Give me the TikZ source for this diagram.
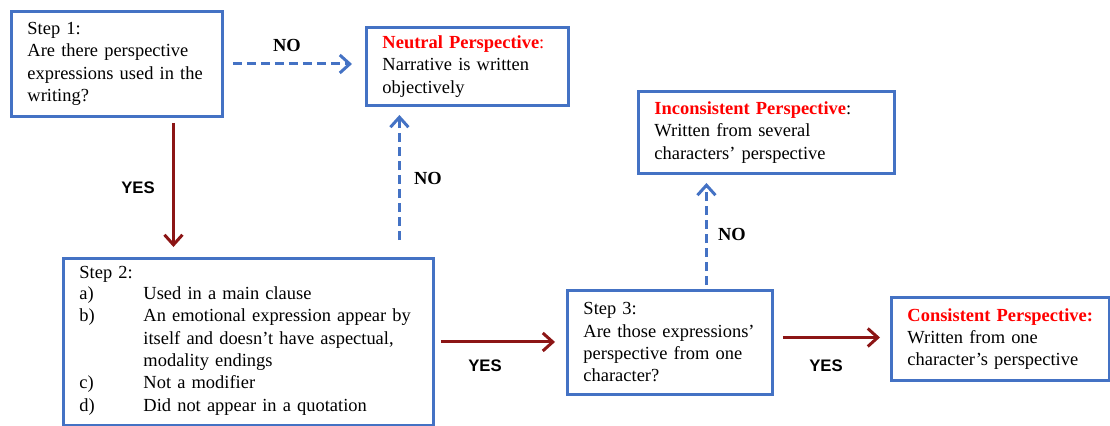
\documentclass[tikz,border=0pt]{standalone}
\usepackage{fontspec}
\setmainfont{Liberation Serif}
\newfontfamily\yesfont{Liberation Sans}
\usepackage{tikz}
\usetikzlibrary{arrows.meta}

\definecolor{boxblue}{HTML}{4472C4}
\definecolor{darkred}{HTML}{8C1515}

\tikzset{
  stepbox/.style={draw=boxblue, line width=1.7pt, rectangle, anchor=north west,
    inner xsep=0.32cm, inner ysep=0pt, align=left,
    font=\fontsize{10.5}{12.7}\selectfont},
  noarrow/.style={draw=boxblue, line width=1.7pt, dash pattern=on 0.18cm off 0.1cm,
    -{Straight Barb[length=0.2cm,width=0.36cm]}},
  yesarrow/.style={draw=darkred, line width=1.7pt,
    -{Straight Barb[length=0.2cm,width=0.36cm]}},
  nolabel/.style={font=\fontsize{10.5}{12}\selectfont\bfseries},
  yeslabel/.style={font=\yesfont\fontsize{9.5}{11}\selectfont\bfseries}
}

\begin{document}
\begin{tikzpicture}[x=0.02cm,y=-0.02cm]
      \useasboundingbox (0,0) rectangle (1110,426);
      \node[stepbox, text width=3.58cm, minimum height=2.1cm] (step1) at (10,10)
        {Step 1:\\Are there perspective\\expressions used in the\\writing?};
      \node[stepbox, text width=3.40cm, minimum height=1.56cm] (neutral) at (365,26)
        {\textcolor{red}{\textbf{Neutral Perspective}:}\\Narrative is written\\objectively};
      \node[stepbox, text width=4.48cm, minimum height=1.64cm] (incons) at (637,90)
        {\textcolor{red}{\textbf{Inconsistent Perspective}}:\\Written from several\\characters' perspective};
      \node[stepbox, text width=6.76cm, minimum height=3.34cm] (step2) at (62,257)
        {Step 2:\\
         \begin{tabular}{@{}p{1.28cm}@{}l@{}}
         a) & Used in a main clause\\
         b) & An emotional expression appear by\\
            & itself and doesn't have aspectual,\\
            & modality endings\\
         c) & Not a modifier\\
         d) & Did not appear in a quotation
         \end{tabular}};
      \node[stepbox, text width=3.46cm, minimum height=2.08cm] (step3) at (566,289)
        {Step 3:\\Are those expressions'\\perspective from one\\character?};
      \node[stepbox, text width=3.72cm, minimum height=1.66cm] (cons) at (890,296)
        {\textcolor{red}{\textbf{Consistent Perspective:}}\\Written from one\\character's perspective};

      \draw[noarrow, shorten <=0.18cm, shorten >=0.26cm] (step1.east) -- (step1.east -| neutral.west);
      \draw[yesarrow, shorten <=0.1cm, shorten >=0.2cm] ([xshift=1.13cm]step1.south) -- ([xshift=1.13cm]step1.south |- step2.north);
      \draw[noarrow, shorten <=0.34cm, shorten >=0.16cm] ([xshift=3.02cm]step2.north) -- ([xshift=3.02cm]step2.north |- neutral.south);
      \draw[yesarrow, shorten <=0.12cm, shorten >=0.22cm] (step2.east) -- (step2.east -| step3.west);
      \draw[noarrow, shorten <=0.08cm, shorten >=0.16cm] ([xshift=0.73cm]step3.north) -- ([xshift=0.73cm]step3.north |- incons.south);
      \draw[yesarrow, shorten <=0.18cm, shorten >=0.2cm] ([yshift=0.1cm]step3.east) -- ([yshift=0.1cm]step3.east -| cons.west);

      \node[nolabel] (no1) at (287,45) {NO};
      \node[yeslabel] (yes1) at (138,188) {YES};
      \node[nolabel] (no2) at (428,178) {NO};
      \node[yeslabel] (yes2) at (485,366) {YES};
      \node[nolabel] (no3) at (732,234) {NO};
      \node[yeslabel] (yes3) at (826,366) {YES};
\end{tikzpicture}
\end{document}
